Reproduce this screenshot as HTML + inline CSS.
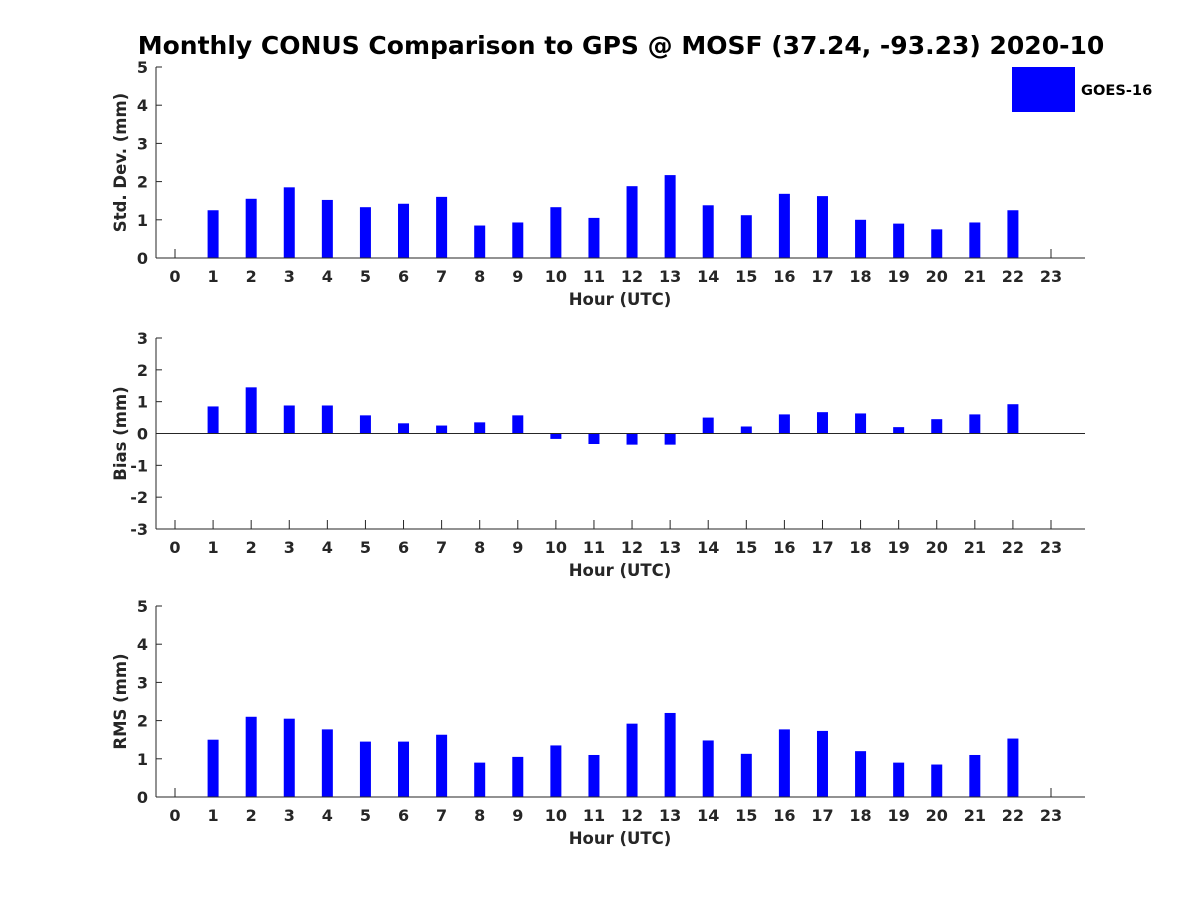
<!DOCTYPE html>
<html><head><meta charset="utf-8"><style>
body{margin:0;background:#fff}
svg text{font-family:"DejaVu Sans","Liberation Sans",sans-serif;font-weight:bold;fill:#262626}
</style></head><body>
<svg id="c" width="1200" height="900">
<text x="621" y="54" font-size="25" text-anchor="middle" style="fill:#000">Monthly CONUS Comparison to GPS @ MOSF (37.24, -93.23) 2020-10</text>
<rect x="1012" y="67" width="63" height="45" fill="#0000ff"/>
<text x="1081" y="95" font-size="14.6" style="fill:#000">GOES-16</text>
</svg>
<script>
const hours=[0,1,2,3,4,5,6,7,8,9,10,11,12,13,14,15,16,17,18,19,20,21,22,23];
const stdVals=[null,1.25,1.55,1.85,1.52,1.33,1.42,1.6,0.85,0.93,1.33,1.05,1.88,2.17,1.38,1.12,1.68,1.62,1.0,0.9,0.75,0.93,1.25,null];
const biasVals=[null,0.85,1.45,0.88,0.88,0.57,0.32,0.25,0.35,0.57,-0.17,-0.33,-0.35,-0.35,0.5,0.22,0.6,0.67,0.63,0.2,0.45,0.6,0.92,null];
const rmsVals=[null,1.5,2.1,2.05,1.77,1.45,1.45,1.63,0.9,1.05,1.35,1.1,1.92,2.2,1.48,1.13,1.77,1.73,1.2,0.9,0.85,1.1,1.53,null];
const stdTicks=[0,1,2,3,4,5];
const biasTicks=[-3,-2,-1,0,1,2,3];
const rmsTicks=[0,1,2,3,4,5];
const svg=document.getElementById('c');
const NS='http://www.w3.org/2000/svg';
function mk(tag,attrs,parent){const e=document.createElementNS(NS,tag);for(const k in attrs)e.setAttribute(k,attrs[k]);(parent||svg).appendChild(e);return e;}
const X0=156,X1=1085;
function xs(h){return 175+h*(1051-175)/23;}
function panel(name,top,bottom,ymin,ymax,vals,ticks,ylabel){
  const g=mk('g',{});
  
  
  const ys=v=>bottom-(v-ymin)/(ymax-ymin)*(bottom-top);
  hours.forEach(h=>{mk('line',{x1:xs(h),x2:xs(h),y1:bottom,y2:bottom-9,stroke:'#262626','stroke-width':1},g);
    const t=mk('text',{x:xs(h),y:bottom+24,'font-size':16,'text-anchor':'middle'},g);t.textContent=h;
    
    });
  vals.forEach((v,i)=>{if(v==null)return;const y0=ys(0),y1=ys(v);
    const r=mk('rect',{x:xs(hours[i])-5.5,y:Math.min(y0,y1),width:11,height:Math.abs(y1-y0),fill:'#0000ff'},g);
    
    });
  ticks.forEach(v=>{mk('line',{x1:X0,x2:X0+6,y1:ys(v),y2:ys(v),stroke:'#262626'},g);
    const t=mk('text',{x:X0-8,y:ys(v)+6,'font-size':16,'text-anchor':'end'},g);t.textContent=v;
    
    });
  mk('line',{x1:X0,x2:X0,y1:top,y2:bottom,stroke:'#262626'},g);
  mk('line',{x1:X0,x2:X1,y1:bottom,y2:bottom,stroke:'#262626'},g);
  if(ymin<0)mk('line',{x1:X0,x2:X1,y1:ys(0),y2:ys(0),stroke:'#262626'},g);
  const xl=mk('text',{x:620,y:bottom+47,'font-size':16.5,'text-anchor':'middle'},g);xl.textContent='Hour (UTC)';
  
  
  const cy=(top+bottom)/2;
  const yl=mk('text',{x:126,y:cy,'font-size':16.5,'text-anchor':'middle',transform:'rotate(-90 126 '+cy+')'},g);yl.textContent=ylabel;
  
  
}
panel('std-dev',67,258,0,5,stdVals,stdTicks,'Std. Dev. (mm)');
panel('bias',338,529,-3,3,biasVals,biasTicks,'Bias (mm)');
panel('rms',606,797,0,5,rmsVals,rmsTicks,'RMS (mm)');
</script>
</body></html>
